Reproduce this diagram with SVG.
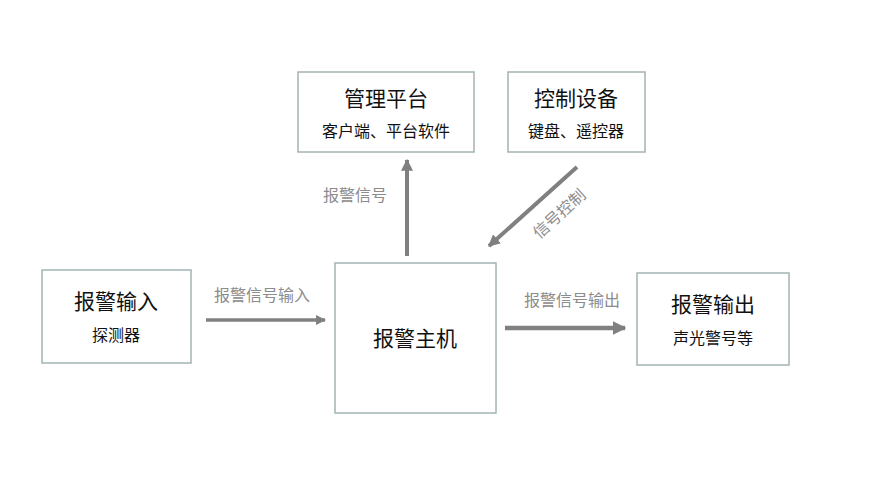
<svg xmlns="http://www.w3.org/2000/svg" width="872" height="500" viewBox="0 0 872 500">
<style>
.box{fill:#fff;stroke:#a2b4b4;stroke-width:1.5}
text{font-family:"Noto Sans CJK SC",sans-serif;text-anchor:middle}
.t{font-size:21px;fill:#111}
.s{font-size:16px;fill:#111}
.l{font-size:16px;fill:#8c8c8c}
.c{stroke:#808080;fill:none}
</style>
<defs><marker id="a" viewBox="0 0 10 10" refX="9" refY="5" markerWidth="3" markerHeight="3" orient="auto"><path d="M0,0L10,5L0,10z" fill="#808080"/></marker></defs>
<rect width="872" height="500" fill="#fff"/>
<g id="connectors">
<line class="c" x1="407" y1="256" x2="407" y2="160" stroke-width="4" marker-end="url(#a)"/>
<line class="c" x1="577" y1="167" x2="489" y2="246" stroke-width="4" marker-end="url(#a)"/>
<line class="c" x1="206" y1="320" x2="325" y2="320" stroke-width="3.5" marker-end="url(#a)"/>
<line class="c" x1="505" y1="328" x2="625" y2="328" stroke-width="4.5" marker-end="url(#a)"/>
<text class="l" x="355" y="201">报警信号</text>
<text class="l" x="262" y="301">报警信号输入</text>
<text class="l" x="572" y="306">报警信号输出</text>
<text class="l" transform="translate(563,218) rotate(-42)">信号控制</text>
</g>
<g id="mgmt"><rect class="box" x="298" y="72" width="176" height="80"/><text class="t" x="386" y="106">管理平台</text><text class="s" x="386" y="137">客户端、平台软件</text></g>
<g id="ctrl"><rect class="box" x="508" y="72" width="137" height="80"/><text class="t" x="576" y="106">控制设备</text><text class="s" x="576" y="137">键盘、遥控器</text></g>
<g id="input"><rect class="box" x="42" y="270" width="149" height="93"/><text class="t" x="116" y="309">报警输入</text><text class="s" x="116" y="341">探测器</text></g>
<g id="host"><rect class="box" x="335" y="263" width="161" height="150"/><text class="t" x="415" y="346">报警主机</text></g>
<g id="output"><rect class="box" x="637" y="273" width="152" height="92"/><text class="t" x="713" y="312">报警输出</text><text class="s" x="713" y="344">声光警号等</text></g>
</svg>
